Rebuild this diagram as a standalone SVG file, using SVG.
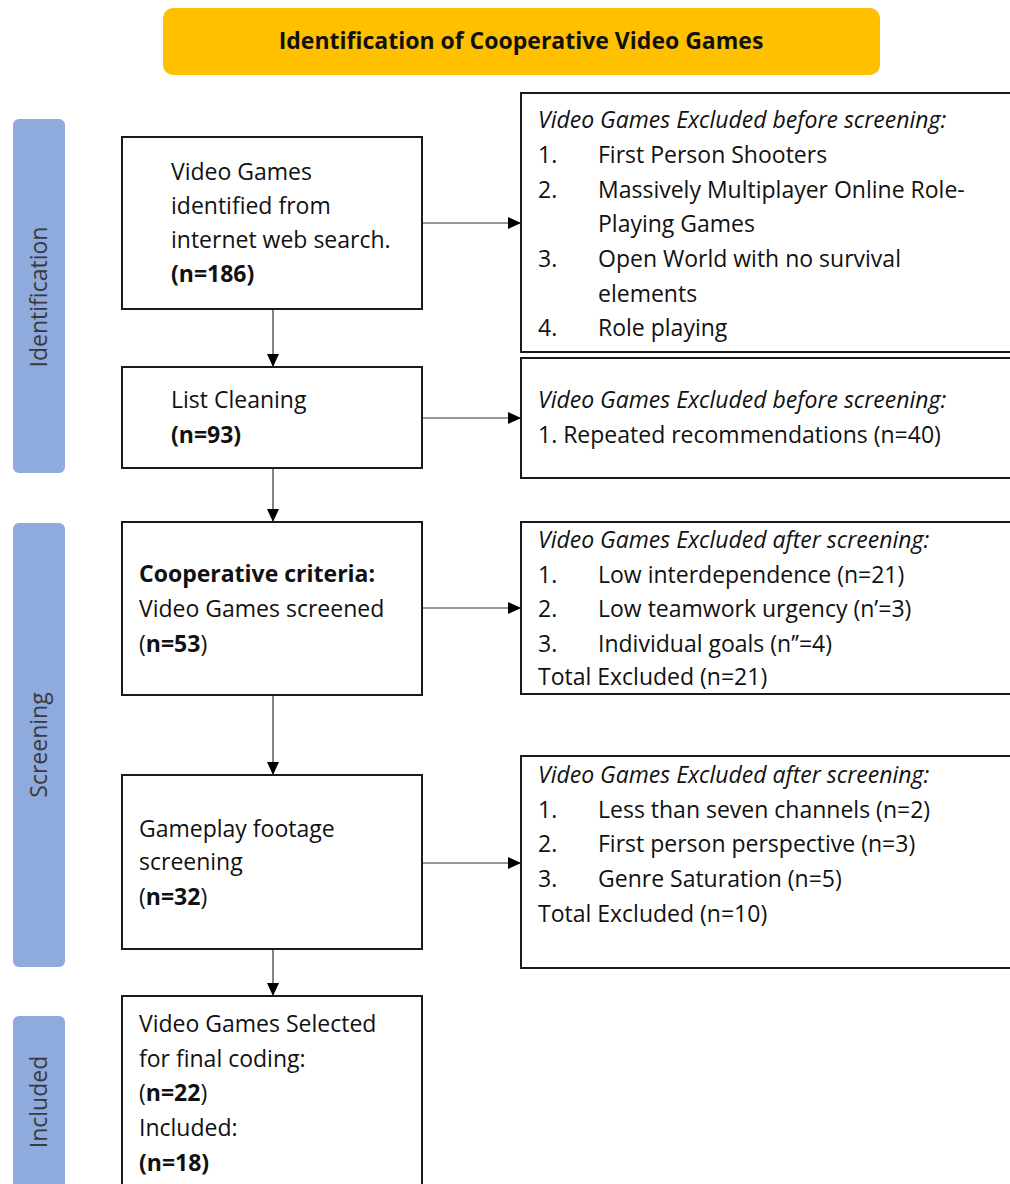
<svg xmlns="http://www.w3.org/2000/svg" width="1010" height="1184" viewBox="0 0 1010 1184">
<style>
.t{font-family:"Open Sans","Liberation Sans",sans-serif;font-size:23px;fill:#111}
.b{font-weight:bold}
.i{font-style:italic}
.box{fill:#fff;stroke:#1a1a1a;stroke-width:2}
.bar{fill:#8FAADC}
.bt{font-family:"Open Sans","Liberation Sans",sans-serif;font-size:23px;fill:#3a3a3a;text-anchor:middle}
.c{stroke:#333;stroke-width:1.2;fill:none}
</style>
<defs>
<marker id="ah" markerUnits="userSpaceOnUse" markerWidth="13" markerHeight="12" refX="13" refY="6" orient="auto">
<path d="M0,0 L13,6 L0,12 z" fill="#000"/>
</marker>
</defs>
<rect width="1010" height="1184" fill="#fff"/>

<g id="title">
<rect x="163" y="8" width="717" height="67" rx="10" fill="#FFC000"/>
<text class="t b" x="521" y="49" text-anchor="middle" font-size="20.5">Identification of Cooperative Video Games</text>
</g>

<g id="bar-identification">
<rect class="bar" x="13" y="119" width="52" height="354" rx="6"/>
<text class="bt" transform="translate(47,297) rotate(-90)">Identification</text>
</g>
<g id="bar-screening">
<rect class="bar" x="13" y="523" width="52" height="444" rx="6"/>
<text class="bt" transform="translate(47,745) rotate(-90)">Screening</text>
</g>
<g id="bar-included">
<rect class="bar" x="13" y="1016" width="52" height="190" rx="6"/>
<text class="bt" transform="translate(47,1102) rotate(-90)">Included</text>
</g>

<g id="connectors">
<line class="c" x1="422" y1="223" x2="521" y2="223" marker-end="url(#ah)"/>
<line class="c" x1="422" y1="418" x2="521" y2="418" marker-end="url(#ah)"/>
<line class="c" x1="422" y1="608" x2="521" y2="608" marker-end="url(#ah)"/>
<line class="c" x1="422" y1="863" x2="521" y2="863" marker-end="url(#ah)"/>
<line class="c" x1="273" y1="309" x2="273" y2="367" marker-end="url(#ah)"/>
<line class="c" x1="273" y1="468" x2="273" y2="522" marker-end="url(#ah)"/>
<line class="c" x1="273" y1="695" x2="273" y2="775" marker-end="url(#ah)"/>
<line class="c" x1="273" y1="949" x2="273" y2="996" marker-end="url(#ah)"/>
</g>

<g id="n1">
<rect class="box" x="122" y="137" width="300" height="172"/>
<text class="t" x="171" y="180">Video Games</text>
<text class="t" x="171" y="214">identified from</text>
<text class="t" x="171" y="248">internet web search.</text>
<text class="t b" x="171" y="282">(n=186)</text>
</g>

<g id="n2">
<rect class="box" x="122" y="367" width="300" height="101"/>
<text class="t" x="171" y="408">List Cleaning</text>
<text class="t b" x="171" y="443">(n=93)</text>
</g>

<g id="n3">
<rect class="box" x="122" y="522" width="300" height="173"/>
<text class="t b" x="139" y="582">Cooperative criteria:</text>
<text class="t" x="139" y="617">Video Games screened</text>
<text class="t" x="139" y="652">(<tspan class="b">n=53</tspan>)</text>
</g>

<g id="n4">
<rect class="box" x="122" y="775" width="300" height="174"/>
<text class="t" x="139" y="837">Gameplay footage</text>
<text class="t" x="139" y="870">screening</text>
<text class="t" x="139" y="905">(<tspan class="b">n=32</tspan>)</text>
</g>

<g id="n5">
<rect class="box" x="122" y="996" width="300" height="220"/>
<text class="t" x="139" y="1032">Video Games Selected</text>
<text class="t" x="139" y="1067">for final coding:</text>
<text class="t" x="139" y="1101">(<tspan class="b">n=22</tspan>)</text>
<text class="t" x="139" y="1136">Included:</text>
<text class="t b" x="139" y="1171">(n=18)</text>
</g>

<g id="r1">
<rect class="box" x="521" y="93" width="520" height="259"/>
<text class="t i" x="538" y="128">Video Games Excluded before screening:</text>
<text class="t" x="538" y="163">1.</text><text class="t" x="598" y="163">First Person Shooters</text>
<text class="t" x="538" y="198">2.</text><text class="t" x="598" y="198">Massively Multiplayer Online Role-</text>
<text class="t" x="598" y="232">Playing Games</text>
<text class="t" x="538" y="267">3.</text><text class="t" x="598" y="267">Open World with no survival</text>
<text class="t" x="598" y="302">elements</text>
<text class="t" x="538" y="336">4.</text><text class="t" x="598" y="336">Role playing</text>
</g>

<g id="r2">
<rect class="box" x="521" y="358" width="520" height="120"/>
<text class="t i" x="538" y="408">Video Games Excluded before screening:</text>
<text class="t" x="538" y="443">1. Repeated recommendations (n=40)</text>
</g>

<g id="r3">
<rect class="box" x="521" y="522" width="520" height="172"/>
<text class="t i" x="538" y="548">Video Games Excluded after screening:</text>
<text class="t" x="538" y="583">1.</text><text class="t" x="598" y="583">Low interdependence (n=21)</text>
<text class="t" x="538" y="617">2.</text><text class="t" x="598" y="617">Low teamwork urgency (n’=3)</text>
<text class="t" x="538" y="652">3.</text><text class="t" x="598" y="652">Individual goals (n’’=4)</text>
<text class="t" x="538" y="685">Total Excluded (n=21)</text>
</g>

<g id="r4">
<rect class="box" x="521" y="756" width="520" height="212"/>
<text class="t i" x="538" y="783">Video Games Excluded after screening:</text>
<text class="t" x="538" y="818">1.</text><text class="t" x="598" y="818">Less than seven channels (n=2)</text>
<text class="t" x="538" y="852">2.</text><text class="t" x="598" y="852">First person perspective (n=3)</text>
<text class="t" x="538" y="887">3.</text><text class="t" x="598" y="887">Genre Saturation (n=5)</text>
<text class="t" x="538" y="922">Total Excluded (n=10)</text>
</g>
</svg>
